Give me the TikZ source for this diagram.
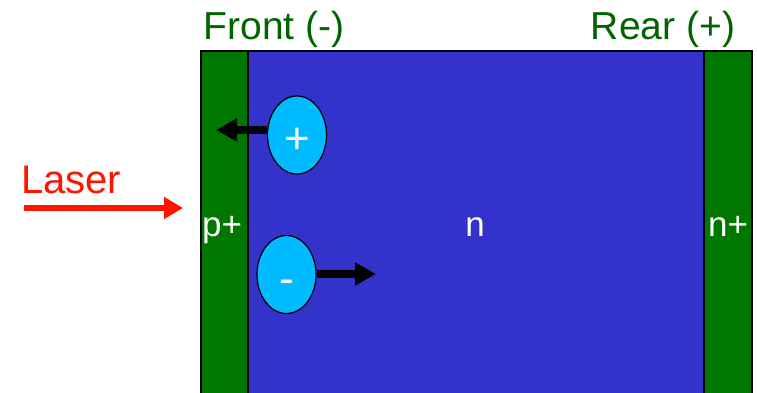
\documentclass[tikz,border=0pt]{standalone}
\usepackage{fontspec}
\setmainfont{Liberation Sans}
\usetikzlibrary{arrows.meta,shapes.geometric}
\definecolor{dgreen}{RGB}{0,120,0}
\definecolor{tgreen}{RGB}{0,100,0}
\definecolor{nblue}{RGB}{51,51,204}
\definecolor{ecyan}{RGB}{0,187,255}
\definecolor{lred}{RGB}{255,20,0}
\tikzset{
  carrier/.style={ellipse, draw=black, line width=1.2pt, fill=ecyan, minimum width=59pt, minimum height=78pt, inner sep=0pt},
  sign/.style={text=white, font=\fontsize{44}{44}\selectfont, anchor=base, inner sep=0pt},
  motion/.style={line width=7.5pt, -{Triangle[length=21pt,width=22pt]}},
  region/.style={text=white, font=\fontsize{35}{35}\selectfont, anchor=base, inner sep=0pt},
  toplabel/.style={text=tgreen, font=\fontsize{39}{39}\selectfont, anchor=base, inner sep=0pt}
}
\begin{document}
\begin{tikzpicture}[x=1pt,y=-1pt]
\useasboundingbox (0,0) rectangle (757,392);
\fill[white] (0,0) rectangle (757,392);
% regions
\filldraw[fill=dgreen, draw=black, line width=1.5pt] (201,51) rectangle (248,395);
\filldraw[fill=nblue, draw=black, line width=1.5pt] (248,51) rectangle (704,395);
\filldraw[fill=dgreen, draw=black, line width=1.5pt] (704,51) rectangle (752,395);
% labels
\node[toplabel] (front) at (274,39) {Front (-)};
\node[toplabel] (rear) at (663,39) {Rear (+)};
\node[region] (pp) at (222,236) {p+};
\node[region] (nn) at (475,236) {n};
\node[region] (np) at (728,236) {n+};
% carriers
\node[carrier] (hole) at (297,135) {};
\node[carrier] (elec) at (286.5,274.5) {};
\node[sign] (holesign) at (297,153) {+};
\node[sign] (elecsign) at (287,293) {-};
\coordinate (holeend) at (216,130);
\coordinate (elecend) at (376,274);
\draw[motion] (hole.west |- holeend) -- (holeend);
\draw[motion] (elec.east |- elecend) -- (elecend);
% laser
\node[text=lred, font=\fontsize{40}{40}\selectfont, anchor=base west, inner sep=0pt] (laser) at (21,193) {Laser};
\coordinate (lstart) at (24,208);
\coordinate (lend) at (183,208);
\draw[lred, line width=6.5pt, -{Triangle[length=19pt,width=21pt]}] (lstart) -- (lend);
\end{tikzpicture}
\end{document}
